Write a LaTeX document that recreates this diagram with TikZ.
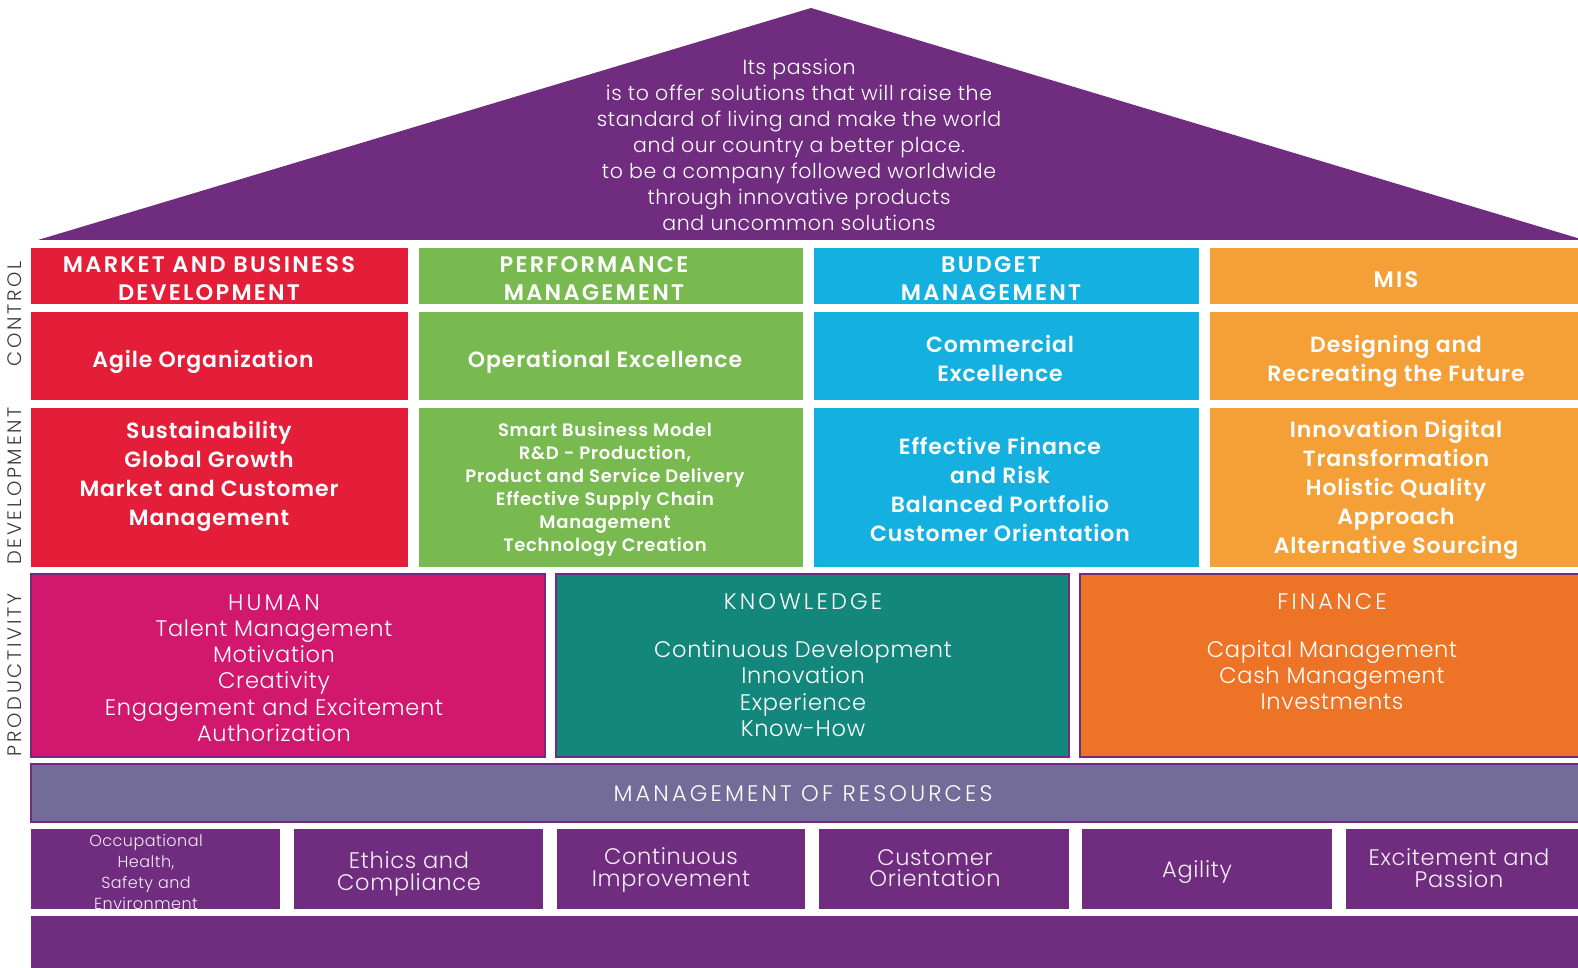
\documentclass[tikz,border=0pt]{standalone}
\usepackage{fontspec}
\setmainfont{Poppins}
\newfontfamily\lightf{Poppins Light}[LetterSpace=3]
\newfontfamily\lightc{Poppins Light}[LetterSpace=14]
\newfontfamily\semib{Poppins SemiBold}[LetterSpace=4]
\newfontfamily\semic{Poppins SemiBold}[LetterSpace=10]
\definecolor{cPurple}{HTML}{702C7E}
\definecolor{cRed}{HTML}{E41D38}
\definecolor{cGreen}{HTML}{78B950}
\definecolor{cBlue}{HTML}{14B0E0}
\definecolor{cOrange}{HTML}{F4A037}
\definecolor{cPink}{HTML}{D2186E}
\definecolor{cTeal}{HTML}{14877D}
\definecolor{cFin}{HTML}{ED7426}
\definecolor{cMgmt}{HTML}{736C98}
\definecolor{cLabel}{HTML}{3A3A3A}
\begin{document}
\begin{tikzpicture}[x=1pt,y=-1pt,
  cell/.style={draw=none, inner sep=0pt, outer sep=0pt, anchor=north west},
  prod/.style={cell, draw=cPurple, line width=2.5pt},
  txt/.style={text=white, align=center, inner sep=0pt},
  hdr/.style={txt, font=\semic\fontsize{22.5}{28}\selectfont},
  bodyb/.style={txt, font=\semib\fontsize{22}{29}\selectfont},
  bodyl/.style={txt, font=\lightf\fontsize{22.5}{26.2}\selectfont},
  basel/.style={txt, font=\lightf\fontsize{22.5}{21.5}\selectfont, text=white!92!cPurple},
  side/.style={rotate=90, inner sep=0pt, text=cLabel, font=\lightc\fontsize{19.5}{22}\selectfont}]
\useasboundingbox (0,0) rectangle (1578,968);
\fill[white] (0,0) rectangle (1578,968);
% roof
\coordinate (roofL) at (38,240);
\coordinate (roofT) at (811,8);
\coordinate (roofR) at (1584,240);
\fill[cPurple] (roofL) -- (roofT) -- (roofR) -- cycle;
\node[txt, font=\lightf\fontsize{20.5}{25.9}\selectfont] (rooftxt) at (799,145)
 {Its passion\\is to offer solutions that will raise the\\standard of living and make the world\\and our country a better place.\\to be a company followed worldwide\\through innovative products\\and uncommon solutions};
% header row
\node[cell, fill=cRed,    minimum width=377pt, minimum height=56pt] (h1) at (31,248) {};
\node[cell, fill=cGreen,  minimum width=384pt, minimum height=56pt] (h2) at (419,248) {};
\node[cell, fill=cBlue,   minimum width=385pt, minimum height=56pt] (h3) at (814,248) {};
\node[cell, fill=cOrange, minimum width=380pt, minimum height=56pt] (h4) at (1210,248) {};
\node[hdr] (h1t) at (209,279) {MARKET AND BUSINESS\\DEVELOPMENT};
\node[hdr] (h2t) at (594,279) {PERFORMANCE\\MANAGEMENT};
\node[hdr] (h3t) at (991,279) {BUDGET\\MANAGEMENT};
\node[hdr] (h4t) at (1396,280) {MIS};
% row 2
\node[cell, fill=cRed,    minimum width=377pt, minimum height=88pt] (a1) at (31,312) {};
\node[cell, fill=cGreen,  minimum width=384pt, minimum height=88pt] (a2) at (419,312) {};
\node[cell, fill=cBlue,   minimum width=385pt, minimum height=88pt] (a3) at (814,312) {};
\node[cell, fill=cOrange, minimum width=380pt, minimum height=88pt] (a4) at (1210,312) {};
\node[bodyb] (a1t) at (203,362) {Agile Organization};
\node[bodyb] (a2t) at (605,362) {Operational Excellence};
\node[bodyb] (a3t) at (1000,358) {Commercial\\Excellence};
\node[bodyb] (a4t) at (1396,361) {Designing and\\Recreating the Future};
% row 3
\node[cell, fill=cRed,    minimum width=377pt, minimum height=159pt] (b1) at (31,408) {};
\node[cell, fill=cGreen,  minimum width=384pt, minimum height=159pt] (b2) at (419,408) {};
\node[cell, fill=cBlue,   minimum width=385pt, minimum height=159pt] (b3) at (814,408) {};
\node[cell, fill=cOrange, minimum width=380pt, minimum height=159pt] (b4) at (1210,408) {};
\node[bodyb] (b1t) at (209,476) {Sustainability\\Global Growth\\Market and Customer\\Management};
\node[txt, font=\semib\fontsize{18}{23}\selectfont] (b2t) at (605,489) {Smart Business Model\\R\&D - Production,\\Product and Service Delivery\\Effective Supply Chain\\Management\\Technology Creation};
\node[bodyb] (b3t) at (1000,489.5) {Effective Finance\\and Risk\\Balanced Portfolio\\Customer Orientation};
\node[bodyb] (b4t) at (1396,490) {Innovation Digital\\Transformation\\Holistic Quality\\Approach\\Alternative Sourcing};
% productivity row
\node[prod, fill=cPink, minimum width=514pt, minimum height=183pt] (p1) at (31,574) {};
\node[prod, fill=cTeal, minimum width=513pt, minimum height=183pt] (p2) at (556,574) {};
\node[prod, fill=cFin,  minimum width=510pt, minimum height=183pt] (p3) at (1080,574) {};
\node[bodyl] (p1t) at (274,668) {{\lightc HUMAN}\\Talent Management\\Motivation\\Creativity\\Engagement and Excitement\\Authorization};
\node[bodyl] (p2t) at (803,665) {{\lightc KNOWLEDGE}\\[22pt]Continuous Development\\Innovation\\Experience\\Know-How};
\node[bodyl, anchor=north] (p3t) at (1332,593) {{\lightc FINANCE}\\[22pt]Capital Management\\Cash Management\\Investments};
% management of resources
\node[prod, fill=cMgmt, line width=2pt, minimum width=1559pt, minimum height=58pt] (mg) at (31,764) {};
\node[bodyl, font=\lightc\fontsize{22.5}{26}\selectfont] (mgt) at (803,794) {MANAGEMENT OF RESOURCES};
% values row
\node[cell, fill=cPurple, minimum width=249pt, minimum height=80pt] (v1) at (31,829) {};
\node[cell, fill=cPurple, minimum width=249pt, minimum height=80pt] (v2) at (294,829) {};
\node[cell, fill=cPurple, minimum width=248pt, minimum height=80pt] (v3) at (557,829) {};
\node[cell, fill=cPurple, minimum width=250pt, minimum height=80pt] (v4) at (819,829) {};
\node[cell, fill=cPurple, minimum width=250pt, minimum height=80pt] (v5) at (1082,829) {};
\node[cell, fill=cPurple, minimum width=244pt, minimum height=80pt] (v6) at (1346,829) {};
\node[basel, font=\lightf\fontsize{16}{21.3}\selectfont] (v1t) at (146,872) {Occupational\\Health,\\Safety and\\Environment};
\node[basel] (v2t) at (409,874) {Ethics and\\Compliance};
\node[basel] (v3t) at (671,870) {Continuous\\Improvement};
\node[basel] (v4t) at (935,868) {Customer\\Orientation};
\node[basel] (v5t) at (1197,872) {Agility};
\node[basel] (v6t) at (1459,868) {Excitement and\\Passion};
% base
\node[cell, fill=cPurple, minimum width=1559pt, minimum height=60pt] (base) at (31,916) {};
% side labels
\node[side] (sc) at (15,314) {CONTROL};
\node[side] (sd) at (15,486) {DEVELOPMENT};
\node[side] (sp) at (15,675) {PRODUCTIVITY};
\end{tikzpicture}
\end{document}
